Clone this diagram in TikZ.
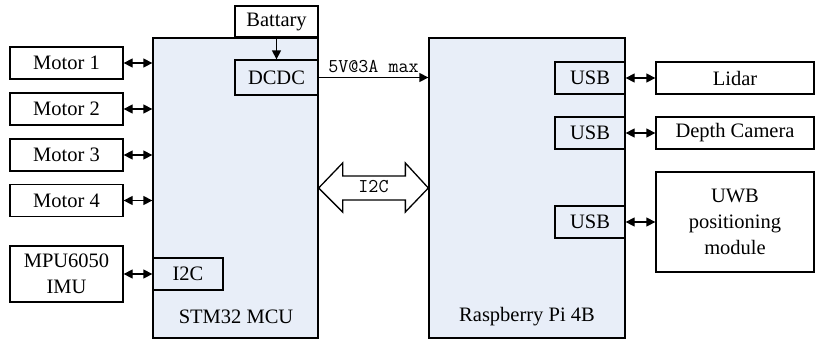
\documentclass[tikz,border=0pt]{standalone}
\usepackage{fontspec}
\setmainfont{Liberation Serif}
\usetikzlibrary{arrows.meta,calc}
\definecolor{boxblue}{RGB}{232,238,248}
\begin{document}
\begin{tikzpicture}[x=1pt,y=-1pt,
  every node/.style={font=\fontsize{20.5}{23}\selectfont},
  box/.style={draw, line width=1.3pt, fill=white, inner sep=0pt, align=center},
  bbox/.style={box, fill=boxblue},
  conn/.style={line width=1.3pt, {Triangle[length=9pt,width=9pt]}-{Triangle[length=9pt,width=9pt]}},
  oneway/.style={line width=1.3pt, -{Triangle[length=9pt,width=9pt]}},
  lbl/.style={font=\fontsize{20.5}{23}\selectfont},
  mono/.style={font=\ttfamily\fontsize{19.5}{22}\selectfont}]
\useasboundingbox (0,0) rectangle (815,341);
% main boards
\node[bbox, minimum width=165pt, minimum height=300pt] (stm) at (235.5,188) {};
\node[bbox, minimum width=196pt, minimum height=300pt] (rpi) at (527,188) {};
\node[lbl] (stmlbl) at (236,317) {STM32 MCU};
\node[lbl] (rpilbl) at (527,317) {Raspberry Pi 4B};
% STM side
\node[box, minimum width=83pt, minimum height=31pt] (bat) at (276.5,21.5) {Battary};
\node[bbox, minimum width=83pt, minimum height=35pt] (dcdc) at (276.5,77.5) {DCDC};
\node[bbox, minimum width=70pt, minimum height=32pt] (i2cs) at (188,274) {I2C};
\node[box, minimum width=113pt, minimum height=32pt] (m1) at (66.5,63) {Motor 1};
\node[box, minimum width=113pt, minimum height=32pt] (m2) at (66.5,109) {Motor 2};
\node[box, minimum width=113pt, minimum height=32pt] (m3) at (66.5,155) {Motor 3};
\node[box, minimum width=113pt, minimum height=32pt] (m4) at (66.5,200.5) {Motor 4};
\node[box, minimum width=113pt, minimum height=56pt, font=\fontsize{20.5}{26}\selectfont] (mpu) at (66.5,274) {MPU6050\\IMU};
% RPi side
\node[bbox, minimum width=70pt, minimum height=32pt] (usb1) at (590,78) {USB};
\node[bbox, minimum width=70pt, minimum height=32pt] (usb2) at (590,133) {USB};
\node[bbox, minimum width=70pt, minimum height=32pt] (usb3) at (590,222) {USB};
\node[box, minimum width=158pt, minimum height=32pt] (lidar) at (735,78) {Lidar};
\node[box, minimum width=158pt, minimum height=32pt] (depth) at (735,133) {Depth Camera};
\node[box, minimum width=158pt, minimum height=100pt, font=\fontsize{20.5}{26}\selectfont] (uwb) at (735,222) {UWB\\positioning\\module};
% connectors
\draw[oneway] (bat.south) -- (dcdc.north);
\foreach \m in {m1,m2,m3,m4} \draw[conn] (\m.east) -- (\m.east -| stm.west);
\draw[conn] (mpu.east) -- (i2cs.west);
\draw[conn] (usb1.east) -- (lidar.west);
\draw[conn] (usb2.east) -- (depth.west);
\draw[conn] (usb3.east) -- (uwb.west);
\draw[oneway] (dcdc.east) -- node[above=1pt, mono] (vlbl) {5V@3A max} (dcdc.east -| rpi.west);
% big I2C arrow
\coordinate (lt) at (stm.east |- 0,188);
\coordinate (rt) at (rpi.west |- 0,188);
\draw[line width=1.3pt, fill=white, line join=miter]
  (lt) -- ($(lt)+(24,-25)$) -- ($(lt)+(24,-12)$) -- ($(rt)+(-23,-12)$) -- ($(rt)+(-23,-25)$) -- (rt)
  -- ($(rt)+(-23,24)$) -- ($(rt)+(-23,12)$) -- ($(lt)+(24,12)$) -- ($(lt)+(24,24)$) -- cycle;
\node[mono] (i2cbig) at ($(lt)!0.5!(rt)+(0,-1)$) {I2C};
\end{tikzpicture}
\end{document}
